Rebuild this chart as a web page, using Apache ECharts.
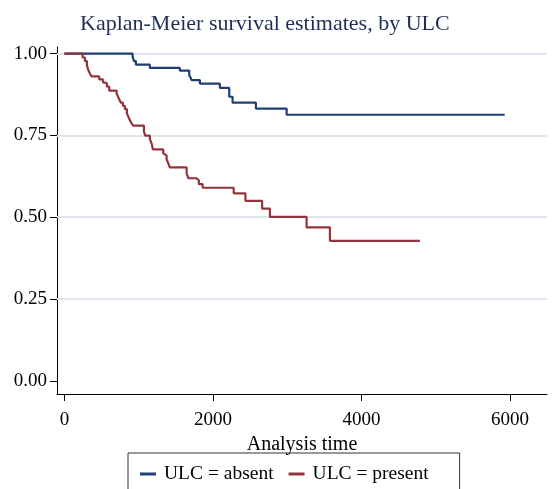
<!DOCTYPE html>
<html>
<head>
<meta charset="utf-8">
<title>Kaplan-Meier</title>
<script src="https://cdn.jsdelivr.net/npm/echarts@6/dist/echarts.min.js"></script>
<style>
  html, body { margin: 0; padding: 0; background: #fff; }
</style>
</head>
<body>
<div id="main" style="width:553px;height:489px;"></div>
<script>
// survival steps: [analysis time, S(t)]
var absent = [
  [0, 1], [918, 0.992], [936, 0.977], [963, 0.966], [1151, 0.956],
  [1555, 0.948], [1681, 0.934], [1700, 0.926], [1713, 0.919], [1825, 0.908],
  [2094, 0.895], [2220, 0.868], [2265, 0.850], [2579, 0.832], [2993, 0.813],
  [5930, 0.813]
];
var present = [
  [0, 1], [245, 0.988], [276, 0.977], [303, 0.963], [320, 0.951], [343, 0.939],
  [366, 0.930], [469, 0.921], [519, 0.912], [545, 0.910], [572, 0.899],
  [603, 0.887], [703, 0.878], [721, 0.869], [738, 0.860], [761, 0.850],
  [788, 0.840], [815, 0.830], [842, 0.817], [859, 0.808], [882, 0.796],
  [905, 0.787], [927, 0.780], [1071, 0.762], [1088, 0.749], [1151, 0.739],
  [1174, 0.725], [1192, 0.707], [1331, 0.695], [1353, 0.689], [1376, 0.677],
  [1398, 0.665], [1421, 0.652], [1646, 0.634], [1670, 0.619], [1778, 0.613],
  [1811, 0.601], [1861, 0.590], [2280, 0.573], [2438, 0.550], [2663, 0.526],
  [2768, 0.501], [3262, 0.469], [3576, 0.428], [4788, 0.428]
];
var xTicks = [0, 2000, 4000, 6000];
var yTicks = [0, 0.25, 0.5, 0.75, 1];
var gridVals = [0.25, 0.5, 0.75, 1];

var serif = 'Liberation Serif';
var chart = echarts.init(document.getElementById('main'));

var option = {
  animation: false,
  title: {
    text: 'Kaplan-Meier survival estimates, by ULC',
    left: 75,
    top: 8,
    textStyle: { fontFamily: serif, fontSize: 22, fontWeight: 'normal', color: '#1f2d57' }
  },
  grid: { left: 57, right: 6, top: 47, bottom: 95 },
  legend: {
    left: 128,
    top: 453,
    padding: [11, 31, 20, 12],
    borderColor: '#333',
    borderWidth: 1,
    itemGap: 15,
    itemWidth: 16,
    itemHeight: 3,
    icon: 'rect',
    textStyle: { fontFamily: serif, fontSize: 19.5, color: '#000', padding: [0, 0, 0, 3] },
    data: ['ULC = absent', 'ULC = present']
  },
  xAxis: {
    type: 'value',
    min: -100,
    max: 6500,
    name: 'Analysis time',
    nameLocation: 'middle',
    nameGap: 28,
    nameTextStyle: { fontFamily: serif, fontSize: 20, color: '#000' },
    axisLine: { onZero: false, lineStyle: { color: '#000', width: 1 } },
    axisTick: { show: true, length: 7, lineStyle: { color: '#000' }, customValues: xTicks },
    axisLabel: {
      fontFamily: serif, fontSize: 19, color: '#000', margin: 17, customValues: xTicks,
      formatter: function (v) { return String(v); }
    },
    splitLine: { show: false }
  },
  yAxis: {
    type: 'value',
    min: -0.04,
    max: 1.02,
    axisLine: { show: true, onZero: false, lineStyle: { color: '#000', width: 1 } },
    axisTick: { show: true, length: 7, lineStyle: { color: '#000' }, customValues: yTicks },
    axisLabel: {
      fontFamily: serif, fontSize: 19, color: '#000', margin: 10,
      customValues: yTicks,
      formatter: function (v) { return v.toFixed(2); }
    },
    splitLine: { show: false }
  },
  series: [
    {
      name: 'ULC = absent',
      type: 'line',
      step: 'end',
      symbol: 'none',
      color: '#1f3f73',
      lineStyle: { width: 2.2, color: '#1f3f73' },
      data: absent,
      z: 3,
      markLine: {
        silent: true,
        symbol: 'none',
        label: { show: false },
        lineStyle: { color: '#dfe5ef', width: 2, type: 'solid' },
        data: gridVals.map(function (v) { return { yAxis: v }; }),
        z: 1
      }
    },
    {
      name: 'ULC = present',
      type: 'line',
      step: 'end',
      symbol: 'none',
      color: '#93343c',
      lineStyle: { width: 2.2, color: '#93343c' },
      data: present,
      z: 4
    }
  ]
};
chart.setOption(option);
</script>
</body>
</html>
